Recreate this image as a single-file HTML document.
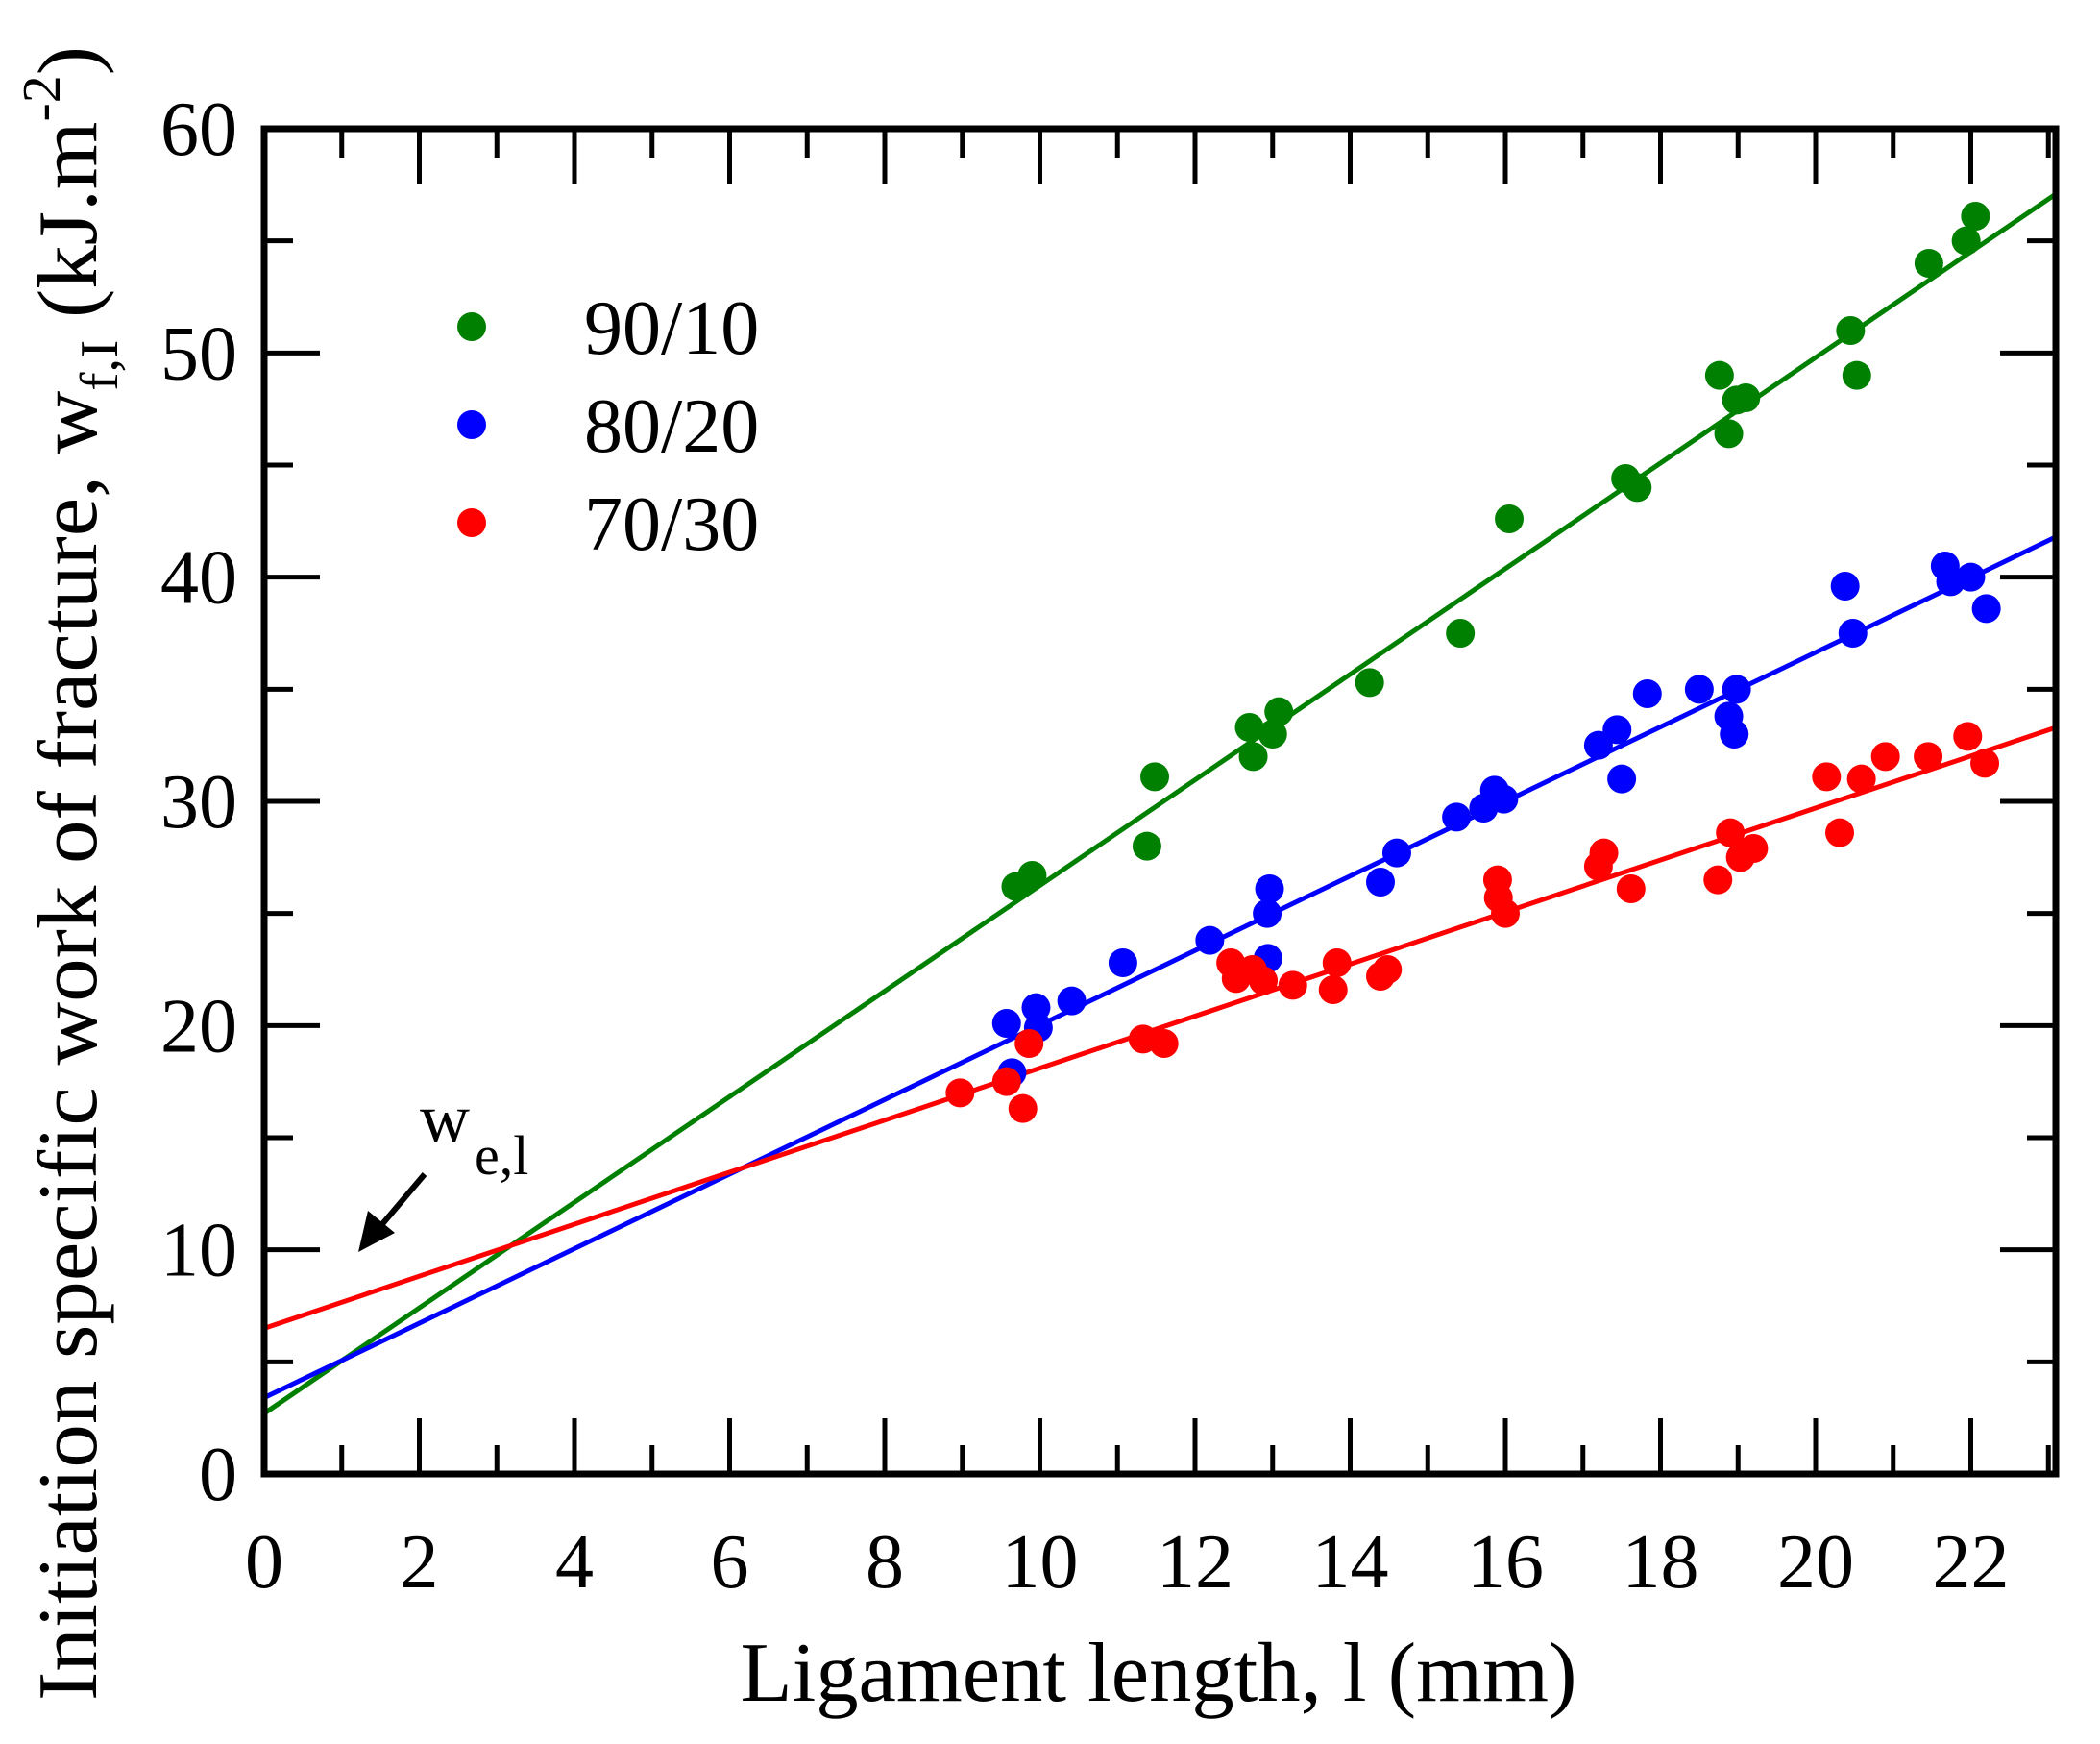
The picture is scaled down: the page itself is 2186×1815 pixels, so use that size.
<!DOCTYPE html>
<html><head><meta charset="utf-8"><style>
html,body{margin:0;padding:0;background:#fff;}
svg{display:block;}
text{font-family:"Liberation Serif",serif;fill:#000;}
</style></head><body>
<svg id="s" width="2186" height="1815" viewBox="0 0 2186 1815" xmlns="http://www.w3.org/2000/svg">
<rect width="2186" height="1815" fill="#fff"/>
<g id="lines"></g>
<g id="pts"></g>
<g id="ticks" stroke="#000" stroke-width="5"></g>
<rect x="275" y="134" width="1865" height="1400" fill="none" stroke="#000" stroke-width="7"/>
<g id="labels" font-size="80"></g>
<text x="1206" y="1770" font-size="88" text-anchor="middle" textLength="871" lengthAdjust="spacingAndGlyphs">Ligament length, l (mm)</text>
<text transform="translate(100,1770) rotate(-90)" font-size="88" textLength="1722" lengthAdjust="spacingAndGlyphs">Initiation specific work of fracture, w<tspan font-size="56" dy="22">f,I</tspan><tspan dy="-22"> (kJ.m</tspan><tspan font-size="56" dy="-38">-2</tspan><tspan dy="38">)</tspan></text>
<circle cx="491" cy="340" r="15" fill="#008000"/>
<circle cx="491" cy="442" r="15" fill="#0000ff"/>
<circle cx="491" cy="544" r="15" fill="#ff0000"/>
<text x="608" y="368" font-size="80">90/10</text>
<text x="608" y="470" font-size="80">80/20</text>
<text x="608" y="572" font-size="80">70/30</text>
<text x="437" y="1188" font-size="72">w</text>
<text x="494" y="1222" font-size="58">e,l</text>
<line x1="442" y1="1222" x2="392" y2="1281" stroke="#000" stroke-width="6"/>
<polygon points="373,1303 383,1260 411,1283" fill="#000"/>
</svg>
<script>
var X=function(v){return 275+v*80.75}, Y=function(v){return 1534-v*23.333};
var NS="http://www.w3.org/2000/svg";
function el(p,t,a){var e=document.createElementNS(NS,t);for(var k in a)e.setAttribute(k,a[k]);p.appendChild(e);return e;}
var L=document.getElementById("lines");
[["#008000",2.7,57.1],["#0000ff",3.4,41.8],["#ff0000",6.5,33.3]].forEach(function(l){
el(L,"line",{x1:X(0),y1:Y(l[1]),x2:X(23.1),y2:Y(l[2]),stroke:l[0],"stroke-width":5});});
var G=[[9.69,26.2],[9.9,26.7],[11.38,28.0],[11.48,31.1],[12.7,33.3],[12.75,32.0],[13.0,33.0],[13.08,34.0],[14.25,35.3],[15.42,37.5],[16.05,42.6],[17.55,44.4],[17.7,44.0],[18.76,49.0],[18.88,46.4],[18.98,47.9],[19.1,48.0],[20.45,51.0],[20.53,49.0],[21.46,54.0],[21.94,55.0],[22.06,56.1]];
var B=[[9.57,20.1],[9.64,17.9],[9.95,20.8],[9.98,19.9],[10.41,21.1],[11.07,22.8],[12.19,23.8],[12.93,25.0],[12.96,26.1],[12.94,23.0],[14.39,26.4],[14.6,27.7],[15.37,29.3],[15.72,29.7],[15.86,30.5],[15.98,30.1],[17.2,32.5],[17.44,33.2],[17.5,31.0],[17.83,34.8],[18.5,35.0],[18.88,33.8],[18.95,33.0],[18.98,35.0],[20.38,39.6],[20.48,37.5],[21.67,40.5],[21.74,39.8],[22.0,40.0],[22.2,38.6]];
var R=[[8.97,17.0],[9.57,17.5],[9.78,16.3],[9.86,19.2],[11.33,19.4],[11.6,19.2],[12.46,22.8],[12.53,22.1],[12.74,22.5],[12.88,22.0],[13.26,21.8],[13.78,21.6],[13.83,22.8],[14.39,22.2],[14.48,22.5],[15.9,26.5],[15.91,25.7],[16.0,25.0],[17.2,27.1],[17.27,27.7],[17.62,26.1],[18.74,26.5],[18.9,28.6],[19.03,27.5],[19.2,27.9],[20.14,31.1],[20.31,28.6],[20.59,31.0],[20.9,32.0],[21.45,32.0],[21.96,32.9],[22.18,31.7]];
var P=document.getElementById("pts");
[[G,"#008000"],[B,"#0000ff"],[R,"#ff0000"]].forEach(function(s){s[0].forEach(function(p){el(P,"circle",{cx:X(p[0]),cy:Y(p[1]),r:15,fill:s[1]});});});
var T=document.getElementById("ticks"),Lb=document.getElementById("labels");
for(var i=1;i<=23;i++){var len=(i%2==0)?58:30,x=X(i);
el(T,"line",{x1:x,y1:1534,x2:x,y2:1534-len});el(T,"line",{x1:x,y1:134,x2:x,y2:134+len});}
for(var i=0;i<=22;i+=2){var t=el(Lb,"text",{x:X(i),y:1652,"text-anchor":"middle"});t.textContent=i;}
for(var v=5;v<60;v+=5){var len=(v%10==0)?58:30,y=Y(v);
el(T,"line",{x1:275,y1:y,x2:275+len,y2:y});el(T,"line",{x1:2140,y1:y,x2:2140-len,y2:y});}
for(var v=0;v<=60;v+=10){var t=el(Lb,"text",{x:247,y:Y(v)+27,"text-anchor":"end"});t.textContent=v;}
</script>
</body></html>
